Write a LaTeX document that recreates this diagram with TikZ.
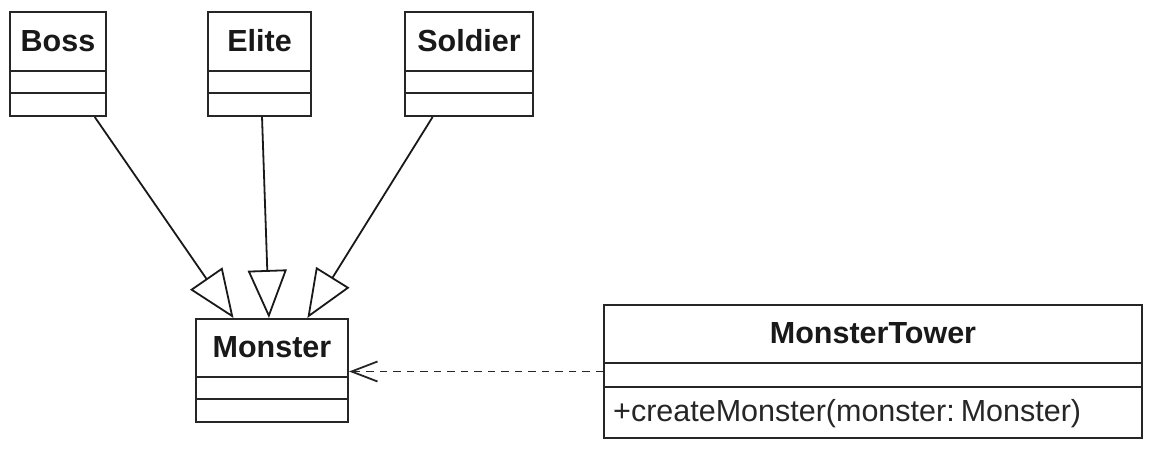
\documentclass[tikz,border=0pt]{standalone}
\usepackage{fontspec}
\setmainfont{Liberation Sans}
\usetikzlibrary{arrows.meta,calc}
\newcommand\umlclass[8]{% name, left, top, width, height, div1, div2, title
  \node[classbox, minimum width=#4pt, minimum height=#5pt, anchor=north west] (#1) at (#2,-#3) {};
  \draw[boxline] ($(#1.north west)+(0,-#6)$) -- ($(#1.north east)+(0,-#6)$);
  \draw[boxline] ($(#1.north west)+(0,-#7)$) -- ($(#1.north east)+(0,-#7)$);
  \node[titletext] (#1-title) at ($(#1.north)+(0,-#6/2)$) {#8};
}
\begin{document}
\begin{tikzpicture}[x=1pt,y=1pt,
  classbox/.style={draw=black!85, line width=2pt, fill=white, inner sep=0pt},
  boxline/.style={draw=black!85, line width=2pt},
  titletext/.style={font=\fontsize{30.5}{35}\selectfont\bfseries, inner sep=0pt, text=black!90},
  methodtext/.style={font=\fontsize{30.5}{35}\selectfont, inner sep=0pt, text=black!85},
  gen/.style={draw=black!90, line width=1.8pt, -{Triangle[length=48pt,width=39pt,fill=white,line join=miter]}},
  dep/.style={draw=black!85, line width=1.8pt, dash pattern=on 7.5pt off 6pt, -{Straight Barb[length=26pt,width=20pt]}}
]
\useasboundingbox (0,0) rectangle (1149,-453);
\umlclass{boss}{9}{11}{96}{104}{60}{82}{Boss}
\umlclass{elite}{207}{11}{103}{104}{60}{82}{Elite}
\umlclass{soldier}{404}{11}{128}{104}{60}{82}{Soldier}
\umlclass{monster}{195}{318}{152}{103}{59}{81}{Monster}
\umlclass{tower}{603}{304}{538}{133}{59}{83}{MonsterTower}
\node[methodtext, anchor=west] (tower-method) at ($(tower.south west)+(10,25)$) {+createMonster(monster:\hspace{0.2em}Monster)};
\draw[gen] ($(boss.south west)!0.875!(boss.south east)$) -- ($(monster.north west)!0.25!(monster.north east)$);
\draw[gen] ($(elite.south west)!0.524!(elite.south east)$) -- ($(monster.north west)!0.48!(monster.north east)$);
\draw[gen] ($(soldier.south west)!0.22!(soldier.south east)$) -- ($(monster.north west)!0.73!(monster.north east)$);
\draw[dep] (tower.west) -- (tower.west -| monster.east);
\end{tikzpicture}
\end{document}
